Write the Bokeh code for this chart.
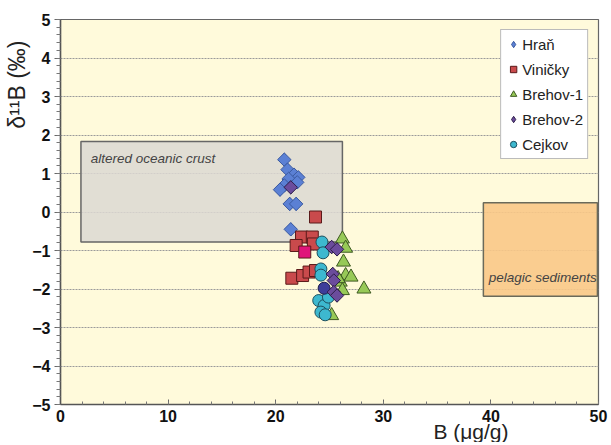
import math
from bokeh.plotting import figure
from bokeh.models import Range1d, Label, Legend, LegendItem, SingleIntervalTicker, Title
from bokeh.embed import file_html
from bokeh.resources import INLINE

# ---- data ----
hran_b = [20.8, 21.1, 21.7, 22.1, 21.2, 22.0, 20.8, 20.4, 21.3, 21.9, 21.4]
hran_d = [1.36, 1.10, 0.97, 0.90, 0.86, 0.77, 0.69, 0.58, 0.21, 0.21, -0.45]

vin_b = [23.7, 22.4, 23.4, 21.9, 23.5, 21.5, 22.5, 23.1, 23.7]
vin_d = [-0.13, -0.65, -0.65, -0.87, -0.83, -1.72, -1.65, -1.56, -1.52]
vin_hi_b = [22.7]
vin_hi_d = [-1.04]

br1_b = [26.2, 26.5, 26.3, 26.5, 27.0, 26.0, 26.2, 28.2, 25.2, 25.8]
br1_d = [-0.70, -0.94, -1.30, -1.65, -1.69, -1.82, -2.04, -2.00, -2.69, -1.73]

br2_b = [21.4, 25.2, 25.7, 25.3, 25.4, 25.4, 25.7]
br2_d = [0.64, -0.91, -0.97, -1.61, -1.78, -2.08, -2.17]

cej_b = [24.3, 24.4, 24.2, 24.2, 24.0, 24.5, 24.2, 24.6, 24.9]
cej_d = [-0.78, -1.06, -1.48, -1.64, -2.30, -2.43, -2.60, -2.67, -2.21]
cej_hi_b = [24.5]
cej_hi_d = [-1.98]

aoc_box = [1.9, 26.2, -0.78, 1.83]      # left, right, bottom, top
pel_box = [39.3, 49.9, -2.19, 0.24]

FONT = "Liberation Sans"

p = figure(width=608, height=442, output_backend="svg", toolbar_location=None,
           x_range=Range1d(0, 50), y_range=Range1d(-5, 5),
           min_border_left=60, min_border_right=10, min_border_top=19, min_border_bottom=38,
           frame_width=538, frame_height=385)

p.background_fill_color = "#fffadb"
p.border_fill_color = "white"
p.outline_line_color = "#666666"
p.outline_line_width = 1.2

# grid
p.xgrid.visible = False
p.ygrid.ticker = SingleIntervalTicker(interval=1)
p.ygrid.grid_line_color = "#9a9a9a"
p.ygrid.grid_line_dash = "2 1"
p.ygrid.grid_line_width = 1

# axes
p.xaxis.ticker = SingleIntervalTicker(interval=10, num_minor_ticks=5)
p.yaxis.ticker = SingleIntervalTicker(interval=1, num_minor_ticks=5)
for ax in (p.xaxis[0], p.yaxis[0]):
    ax.axis_line_color = "#555555"
    ax.axis_line_width = 1.5
    ax.major_tick_line_color = "#666666"
    ax.minor_tick_line_color = "#777777"
    ax.major_label_text_font = FONT
    ax.major_label_text_font_style = "bold"
    ax.major_label_text_font_size = "16px"
    ax.major_label_text_color = "#111111"
p.xaxis.major_tick_in = 5
p.xaxis.major_tick_out = 0
p.xaxis.minor_tick_in = 3
p.xaxis.minor_tick_out = 0
p.xaxis.major_label_standoff = 5
p.yaxis.major_tick_in = 0
p.yaxis.major_tick_out = 6
p.yaxis.minor_tick_in = 0
p.yaxis.minor_tick_out = 4
p.yaxis.major_label_standoff = 4

# reference boxes
p.quad(left=[aoc_box[0]], right=[aoc_box[1]], bottom=[aoc_box[2]], top=[aoc_box[3]],
       fill_color="#dcd8d2", fill_alpha=0.85, line_color="#666666", line_width=1.5)
p.quad(left=[pel_box[0]], right=[pel_box[1]], bottom=[pel_box[2]], top=[pel_box[3]],
       fill_color="#f9c887", fill_alpha=0.9, line_color="#6a6a5a", line_width=1.5)

p.add_layout(Label(x=2.8, y=1.39, text="altered oceanic crust", text_font=FONT,
                   text_font_style="italic", text_font_size="13.5px", text_color="#444444",
                   text_baseline="middle"))
p.add_layout(Label(x=39.8, y=-1.70, text="pelagic sediments", text_font=FONT,
                   text_font_style="italic", text_font_size="13.5px", text_color="#444444",
                   text_baseline="middle"))

# markers
HRAN_FILL, HRAN_LINE = "#5b80d4", "#3b5aa0"
BR2_FILL, BR2_LINE = "#6b4c9c", "#2e1e4a"
r_hran = p.scatter(hran_b, hran_d, marker="diamond", size=13,
                   fill_color=HRAN_FILL, line_color=HRAN_LINE, line_width=1)
p.scatter(hran_b, hran_d, marker="square", size=9.5, angle=math.pi / 4,
          fill_color=HRAN_FILL, line_color=HRAN_LINE, line_width=1)
r_vin = p.scatter(vin_b, vin_d, marker="square", size=12,
                  fill_color="#c94a4c", line_color="#5a1a1a", line_width=1)
p.scatter(vin_hi_b, vin_hi_d, marker="square", size=12,
          fill_color="#e0147a", line_color="#5a1a1a", line_width=1)
r_br1 = p.scatter(br1_b, br1_d, marker="triangle", size=14,
                  fill_color="#97c957", line_color="#3e5a22", line_width=1)
r_cej = p.scatter(cej_b, cej_d, marker="circle", size=12,
                  fill_color="#3db8cf", line_color="#1d4f5e", line_width=1)
p.scatter(cej_hi_b, cej_hi_d, marker="circle", size=12,
          fill_color="#3d3d9a", line_color="#1d1d4e", line_width=1)
r_br2 = p.scatter(br2_b, br2_d, marker="diamond", size=13,
                  fill_color=BR2_FILL, line_color=BR2_LINE, line_width=1)
p.scatter(br2_b, br2_d, marker="square", size=9.5, angle=math.pi / 4,
          fill_color=BR2_FILL, line_color=BR2_LINE, line_width=1)

legend = Legend(items=[
    LegendItem(label="Hraň", renderers=[r_hran]),
    LegendItem(label="Viničky", renderers=[r_vin]),
    LegendItem(label="Brehov-1", renderers=[r_br1]),
    LegendItem(label="Brehov-2", renderers=[r_br2]),
    LegendItem(label="Cejkov", renderers=[r_cej]),
], location="top_right")
legend.margin = 10
legend.padding = 4
legend.spacing = 5
legend.glyph_width = 16
legend.glyph_height = 20
legend.label_height = 20
legend.label_standoff = 1
legend.label_text_font = FONT
legend.label_text_font_size = "15px"
legend.label_text_color = "#222222"
legend.border_line_color = "#777777"
legend.border_line_width = 1.2
legend.background_fill_color = "white"
legend.background_fill_alpha = 1
p.add_layout(legend)

# axis titles
xt = Title(text="B (μg/g)", align="right", offset=90, standoff=-14,
           text_font=FONT, text_font_size="21px", text_font_style="normal",
           text_color="#222222")
p.add_layout(xt, "below")
yt = Title(text="δ¹¹B (‰)", align="right", offset=21, standoff=0,
           text_font=FONT, text_font_size="23px", text_font_style="normal",
           text_color="#222222")
p.add_layout(yt, "left")

open("out.html", "w").write(file_html(p, INLINE))
